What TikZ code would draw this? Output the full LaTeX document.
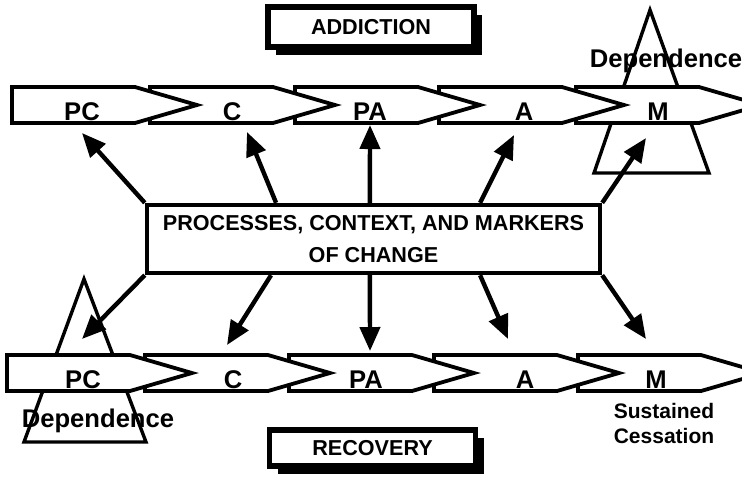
\documentclass[tikz,border=0pt]{standalone}
\usepackage{fontspec}
\setmainfont{Liberation Sans}
\usetikzlibrary{arrows.meta,shadows,calc}

\begin{document}
\begin{tikzpicture}[x=0.5pt,y=-0.5pt,
			stage/.style={draw,line width=1.9pt,fill=white},
			stagelbl/.style={anchor=base,font=\fontsize{12.8}{14}\selectfont\bfseries},
			depend/.style={draw,line width=1.7pt},
			deplbl/.style={anchor=base,font=\fontsize{12.8}{15}\selectfont\bfseries},
			headbox/.style={draw,line width=2.7pt,fill=white,minimum width=103pt,minimum height=20pt,
				font=\fontsize{10.8}{13}\selectfont\bfseries,
				drop shadow={shadow xshift=4pt,shadow yshift=-4pt,fill=black,opacity=1}},
			link/.style={line width=2.2pt,-{Triangle[length=12pt,width=10pt]}}]
			\useasboundingbox (0,0) rectangle (742,484);
			
			\draw[depend] (650,10) -- (709,173) -- (594,173) -- cycle;
			\draw[depend] (84,279) -- (146,442) -- (24,442) -- cycle;
			
			\foreach \x/\lx/\lbl/\nm in {576/658/M/am, 439/524/A/aa, 295/370/PA/apa, 150/232/C/ac, 12/82/PC/apc} {
				\draw[stage] (\x,87) -- ++(123,0) -- ++(62,18) -- ++(-62,18) -- ++(-123,0) -- cycle;
				\node[stagelbl] (\nm) at (\lx,120) {\lbl};
			}
			\foreach \x/\lx/\lbl/\nm in {578/656/M/rm, 434/525/A/ra, 289/366/PA/rpa, 145/233/C/rc, 7/83/PC/rpc} {
				\draw[stage] (\x,355) -- ++(123,0) -- ++(62,18) -- ++(-62,18) -- ++(-123,0) -- cycle;
				\node[stagelbl] (\nm) at (\lx,388) {\lbl};
			}
			
			\node[deplbl] (deptop) at (666,67) {Dependence};
			\node[deplbl] (depbot) at (98,427) {Dependence};
			\node[align=center,font=\fontsize{10.5}{12.5}\selectfont\bfseries] (sust) at (664,423) {Sustained\\Cessation};
			
			\node[headbox] (add) at (371,27) {ADDICTION};
			\node[headbox,minimum height=18pt] (rec) at (372.5,448) {RECOVERY};
			
			\node[draw,line width=2.2pt,fill=white,minimum width=226.5pt,minimum height=34pt,align=center,
				font=\fontsize{10.8}{16}\selectfont\bfseries] (proc) at (373.5,239)
				{PROCESSES, CONTEXT, AND MARKERS\\OF CHANGE};
			
			\coordinate (t1) at (82,133);
			\coordinate (t2) at (247,132);
			\coordinate (t3) at (370,125);
			\coordinate (t4) at (514,135);
			\coordinate (t5) at (646,138);
			\coordinate (b1) at (82,339);
			\coordinate (b2) at (227,345);
			\coordinate (b3) at (370,351);
			\coordinate (b4) at (508,339);
			\coordinate (b5) at (646,339);
			
			\draw[link] (proc.north west) -- (t1);
			\draw[link] ($(proc.north west)!0.287!(proc.north east)$) -- (t2);
			\draw[link] ($(proc.north west)!0.492!(proc.north east)$) -- (t3);
			\draw[link] ($(proc.north west)!0.733!(proc.north east)$) -- (t4);
			\draw[link] (proc.north east) -- (t5);
			\draw[link] (proc.south west) -- (b1);
			\draw[link] ($(proc.south west)!0.276!(proc.south east)$) -- (b2);
			\draw[link] ($(proc.south west)!0.492!(proc.south east)$) -- (b3);
			\draw[link] ($(proc.south west)!0.733!(proc.south east)$) -- (b4);
			\draw[link] (proc.south east) -- (b5);
			
			\end{tikzpicture}
\end{document}
